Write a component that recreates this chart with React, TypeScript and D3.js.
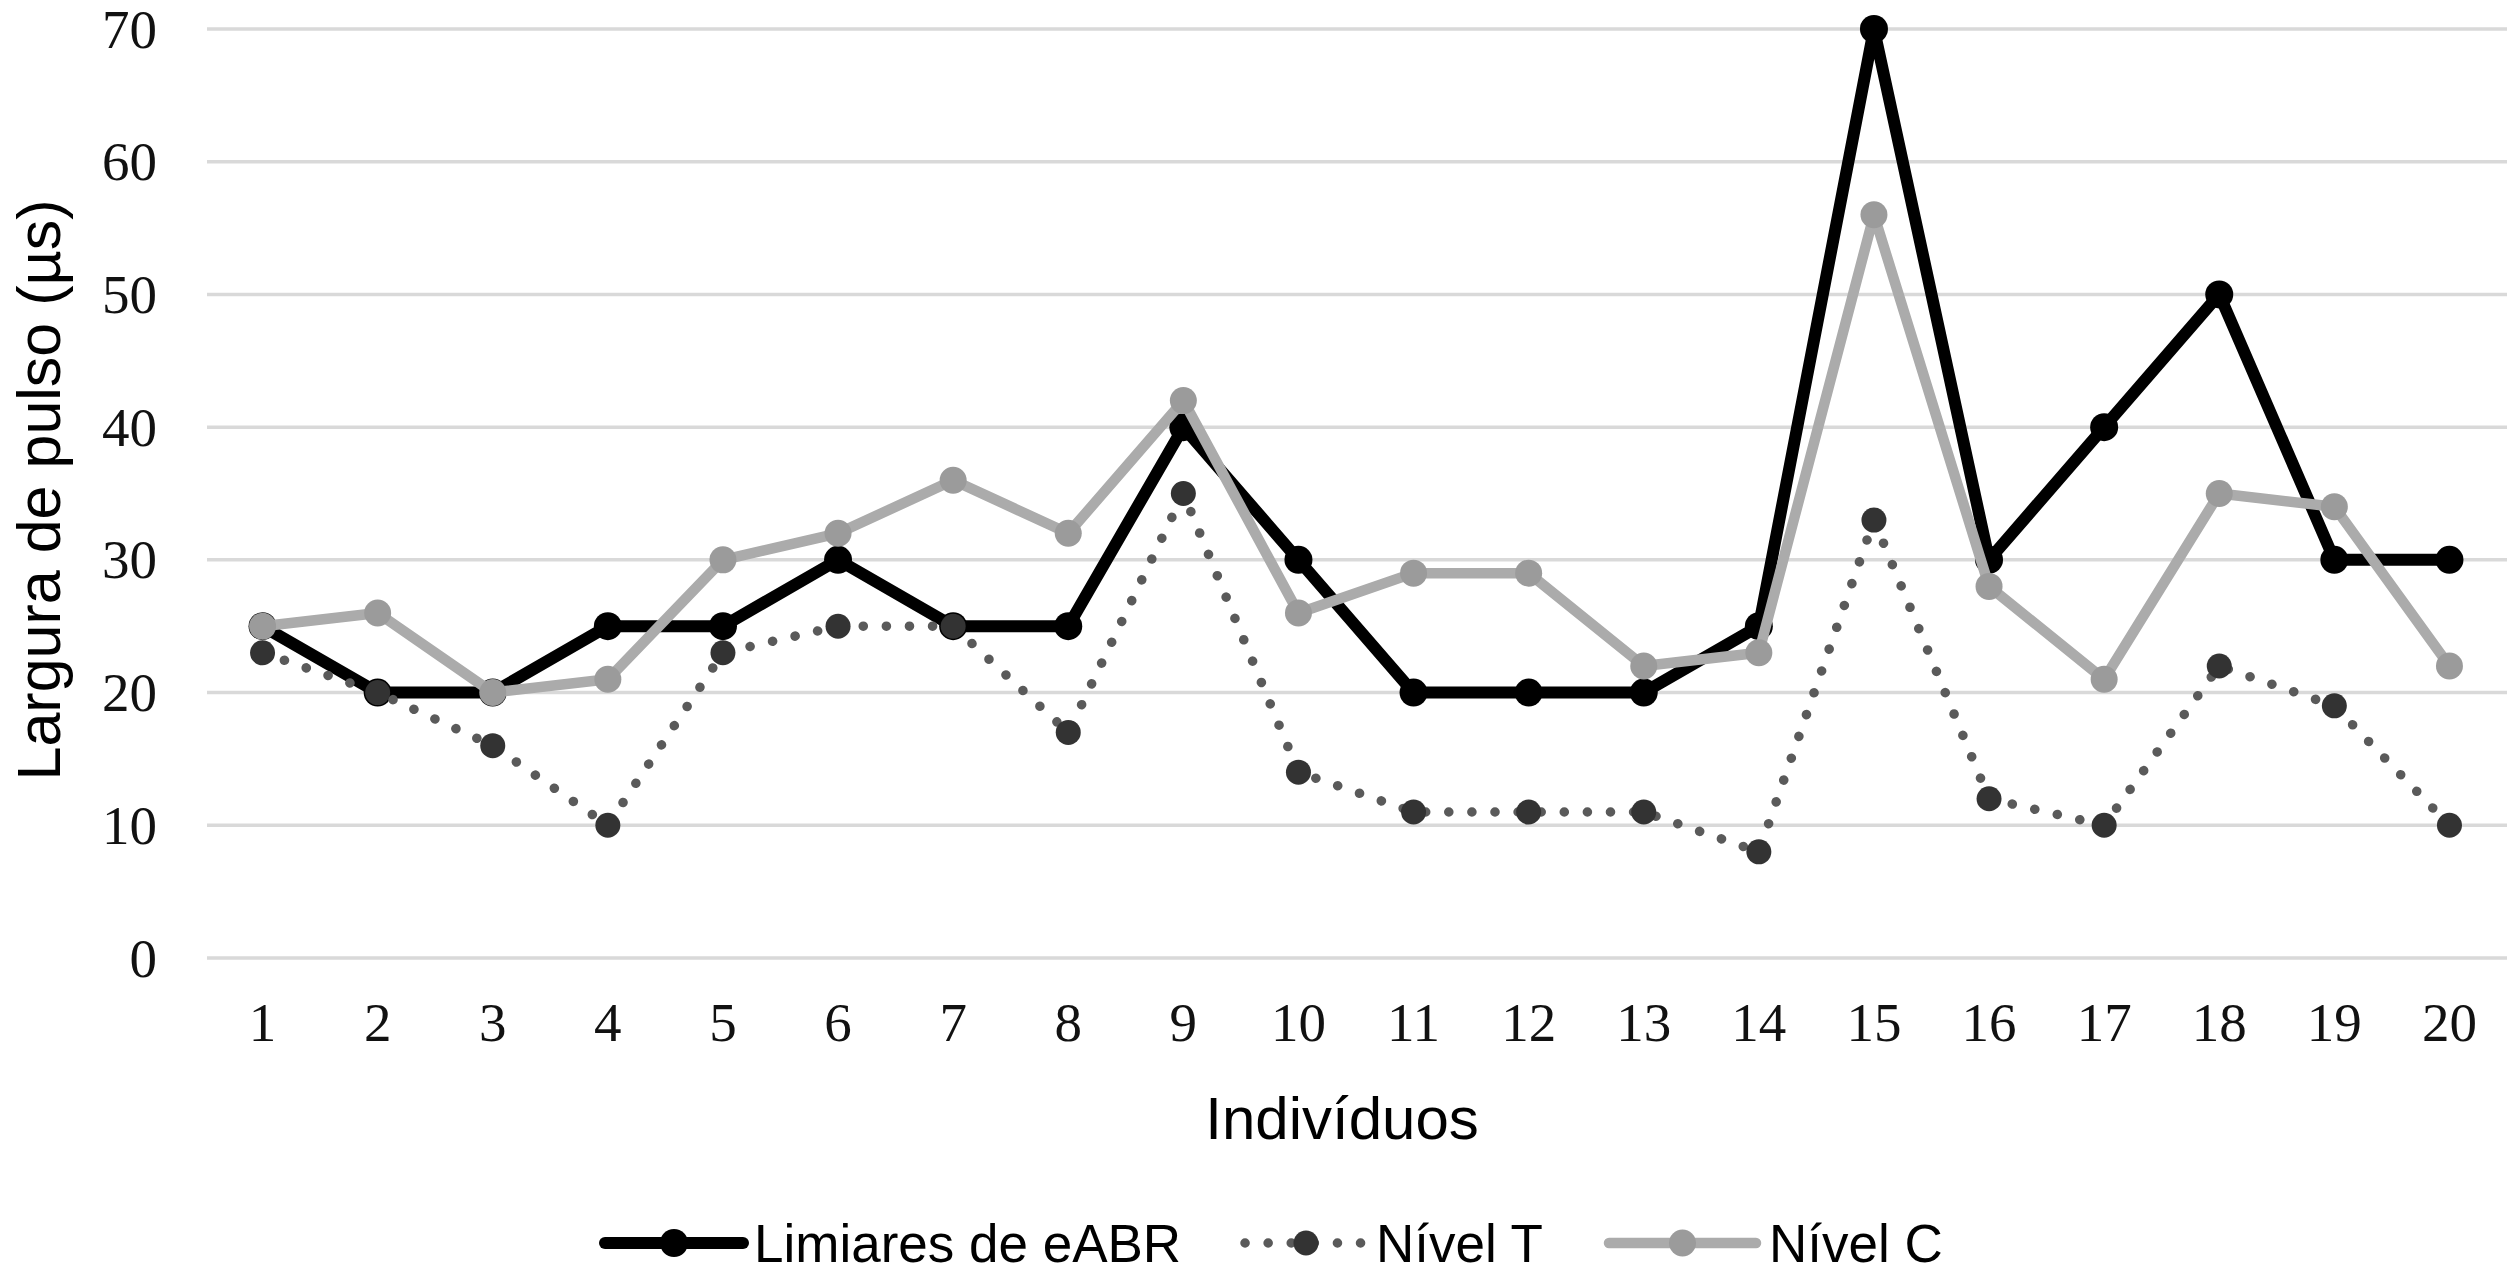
// @ts-nocheck
import { useEffect, useRef } from 'react';
import * as d3 from 'd3';

const individuals = ['1', '2', '3', '4', '5', '6', '7', '8', '9', '10', '11', '12', '13', '14', '15', '16', '17', '18', '19', '20'];
const limiaresEABR = [25, 20, 20, 25, 25, 30, 25, 25, 40, 30, 20, 20, 20, 25, 70, 30, 40, 50, 30, 30];
const nivelT = [23, 20, 16, 10, 23, 25, 25, 17, 35, 14, 11, 11, 11, 8, 33, 12, 10, 22, 19, 10];
const nivelC = [25, 26, 20, 21, 30, 32, 36, 32, 42, 26, 29, 29, 22, 23, 56, 28, 21, 35, 34, 22];
const yTicks = [0, 10, 20, 30, 40, 50, 60, 70];
const seriesNames = ['Limiares de eABR', 'Nível T', 'Nível C'];

const W = 2515;
const H = 1272;

export default function App() {
  const svgRef = useRef<SVGSVGElement>(null);

  useEffect(() => {
    if (!svgRef.current) return;
    const svg = d3.select(svgRef.current);
    svg.selectAll('*').remove();

    const x = d3.scalePoint().domain(individuals).range([205, 2507]).padding(0.5);
    const y = d3.scaleLinear().domain([0, 70]).range([958, 29]);

    // Gridlines
    svg
      .append('g')
      .selectAll('line')
      .data(yTicks)
      .join('line')
      .attr('x1', 207)
      .attr('x2', 2507)
      .attr('y1', (d) => y(d))
      .attr('y2', (d) => y(d))
      .attr('stroke', '#d9d9d9')
      .attr('stroke-width', 3.5);

    // Y tick labels
    svg
      .append('g')
      .selectAll('text')
      .data(yTicks)
      .join('text')
      .attr('x', 157)
      .attr('y', (d) => y(d))
      .attr('text-anchor', 'end')
      .attr('dominant-baseline', 'central')
      .attr('font-family', '"Liberation Serif", "Times New Roman", serif')
      .attr('font-size', 55)
      .attr('fill', '#111')
      .text((d) => d);

    // X tick labels
    svg
      .append('g')
      .selectAll('text')
      .data(individuals)
      .join('text')
      .attr('x', (d) => x(d))
      .attr('y', 1022)
      .attr('text-anchor', 'middle')
      .attr('dominant-baseline', 'central')
      .attr('font-family', '"Liberation Serif", "Times New Roman", serif')
      .attr('font-size', 55)
      .attr('fill', '#111')
      .text((d) => d);

    // Axis titles
    svg
      .append('text')
      .attr('transform', `translate(60, 490) rotate(-90)`)
      .attr('text-anchor', 'middle')
      .attr('font-family', '"Liberation Sans", Arial, sans-serif')
      .attr('font-size', 61)
      .attr('fill', '#000')
      .text('Largura de pulso (µs)');

    svg
      .append('text')
      .attr('x', 1342)
      .attr('y', 1139)
      .attr('text-anchor', 'middle')
      .attr('font-family', '"Liberation Sans", Arial, sans-serif')
      .attr('font-size', 60)
      .attr('fill', '#000')
      .text('Indivíduos');

    const styles = [
      { values: limiaresEABR, stroke: '#000', width: 12, dash: null, marker: '#000', r: 14 },
      { values: nivelT, stroke: '#5a5a5a', width: 9.5, dash: '0.1 23', marker: '#333', r: 12.5 },
      { values: nivelC, stroke: '#ababab', width: 10.5, dash: null, marker: '#9b9b9b', r: 13.5 },
    ];

    const line = d3
      .line<number>()
      .x((_, i) => x(individuals[i]))
      .y((d) => y(d));

    styles.forEach((s) => {
      const g = svg.append('g');
      g.append('path')
        .datum(s.values)
        .attr('d', line)
        .attr('fill', 'none')
        .attr('stroke', s.stroke)
        .attr('stroke-width', s.width)
        .attr('stroke-linejoin', 'round')
        .attr('stroke-linecap', 'round')
        .attr('stroke-dasharray', s.dash);
      g.selectAll('circle')
        .data(s.values)
        .join('circle')
        .attr('cx', (_, i) => x(individuals[i]))
        .attr('cy', (d) => y(d))
        .attr('r', s.r)
        .attr('fill', s.marker);
    });

    // Legend
    const legendY = 1243;
    const legendItems = [
      { x0: 605, x1: 743, tx: 754 },
      { x0: 1245, x1: 1367, tx: 1376 },
      { x0: 1609, x1: 1756, tx: 1769 },
    ];
    legendItems.forEach((it, i) => {
      const s = styles[i];
      const g = svg.append('g');
      g.append('line')
        .attr('x1', it.x0)
        .attr('x2', it.x1)
        .attr('y1', legendY)
        .attr('y2', legendY)
        .attr('stroke', s.stroke)
        .attr('stroke-width', s.width)
        .attr('stroke-linecap', 'round')
        .attr('stroke-dasharray', s.dash);
      g.append('circle')
        .attr('cx', (it.x0 + it.x1) / 2)
        .attr('cy', legendY)
        .attr('r', s.r)
        .attr('fill', s.marker);
      g.append('text')
        .attr('x', it.tx)
        .attr('y', legendY)
        .attr('dominant-baseline', 'central')
        .attr('font-family', '"Liberation Sans", Arial, sans-serif')
        .attr('font-size', 53)
        .attr('fill', '#000')
        .text(seriesNames[i]);
    });
  }, []);

  return (
    <div style={{ position: 'absolute', left: 0, top: 0, background: '#fff' }}>
      <svg ref={svgRef} width={W} height={H} style={{ display: 'block' }} />
    </div>
  );
}
